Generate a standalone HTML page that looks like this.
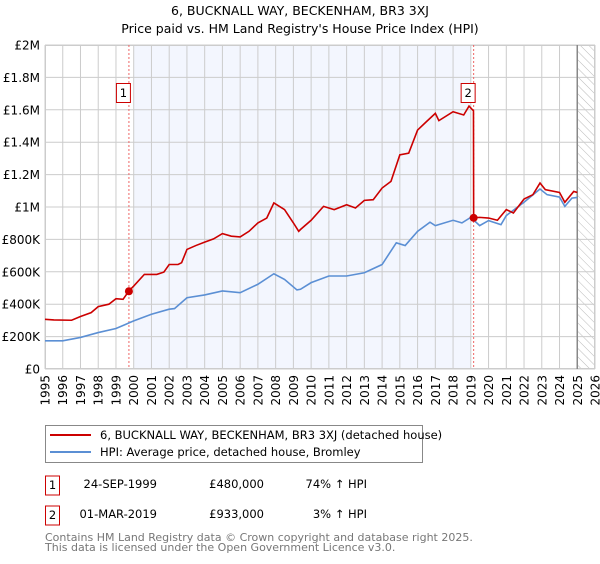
<!DOCTYPE html>
<html><head><meta charset="utf-8"><style>
body{margin:0;background:#fff;width:600px;height:560px;overflow:hidden;font-family:"DejaVu Sans","Liberation Sans",sans-serif}
svg text{font-family:"DejaVu Sans","Liberation Sans",sans-serif}
</style></head><body>
<svg id="chart" width="600" height="560" xmlns="http://www.w3.org/2000/svg">
<text x="300" y="15" text-anchor="middle" font-size="12.5">6, BUCKNALL WAY, BECKENHAM, BR3 3XJ</text>
<text x="300" y="33" text-anchor="middle" font-size="12.5">Price paid vs. HM Land Registry's House Price Index (HPI)</text>
<g id="plot"></g>
<g>
<rect x="45.5" y="425.5" width="377" height="37" fill="#fff" stroke="#888"/>
<line x1="50" y1="435" x2="91" y2="435" stroke="#cc0000" stroke-width="2"/>
<text x="100" y="439" font-size="11.5">6, BUCKNALL WAY, BECKENHAM, BR3 3XJ (detached house)</text>
<line x1="50" y1="452" x2="91" y2="452" stroke="#5b8fd4" stroke-width="2"/>
<text x="100" y="456" font-size="11.5">HPI: Average price, detached house, Bromley</text>
</g>
<g font-size="11.5">
<rect x="45.5" y="476" width="14" height="19" fill="#fff" stroke="#cc0000"/>
<text x="52.5" y="489" text-anchor="middle">1</text>
<text x="157" y="488" text-anchor="end">24-SEP-1999</text>
<text x="264" y="488" text-anchor="end">£480,000</text>
<text x="367" y="488" text-anchor="end">74% ↑ HPI</text>
<rect x="45.5" y="506" width="14" height="19" fill="#fff" stroke="#cc0000"/>
<text x="52.5" y="519" text-anchor="middle">2</text>
<text x="157" y="518" text-anchor="end">01-MAR-2019</text>
<text x="264" y="518" text-anchor="end">£933,000</text>
<text x="367" y="518" text-anchor="end">3% ↑ HPI</text>
</g>
<text x="45" y="541" font-size="11" fill="#777">Contains HM Land Registry data © Crown copyright and database right 2025.</text>
<text x="45" y="551" font-size="11" fill="#777">This data is licensed under the Open Government Licence v3.0.</text>
</svg>
<script>
const yTickValues=[0,200,400,600,800,1000,1200,1400,1600,1800,2000];
const yTickLabels=["£0","£200K","£400K","£600K","£800K","£1M","£1.2M","£1.4M","£1.6M","£1.8M","£2M"];
const xTickYears=[1995,1996,1997,1998,1999,2000,2001,2002,2003,2004,2005,2006,2007,2008,2009,2010,2011,2012,2013,2014,2015,2016,2017,2018,2019,2020,2021,2022,2023,2024,2025,2026];
const hpiYears=[1995,1996,1997,1998,1999,1999.7,2000,2001,2002,2002.3,2003,2004,2005,2006,2007,2007.9,2008.5,2009.2,2009.4,2010,2011,2012,2013,2014,2014.8,2015.3,2016,2016.7,2017,2018,2018.5,2019,2019.5,2020,2020.7,2021,2022,2022.9,2023.3,2024,2024.3,2024.7,2025];
const hpiValues=[174,174,195,225,250,283,297,338,369,373,440,457,482,471,523,588,553,488,492,533,574,574,594,645,779,762,850,906,885,918,902,936,885,916,891,947,1029,1111,1076,1061,1004,1055,1059];
const priceYears=[1995,1995.5,1996.5,1997,1997.6,1998,1998.6,1999,1999.4,1999.73,2000,2000.6,2001.3,2001.7,2002,2002.5,2002.7,2003,2003.5,2004,2004.5,2005,2005.5,2006,2006.5,2007,2007.5,2007.9,2008.5,2009,2009.3,2009.4,2010,2010.7,2011.3,2012,2012.5,2013,2013.5,2014,2014.5,2015,2015.5,2016,2016.5,2017,2017.2,2018,2018.6,2018.9,2019.15,2019.16,2019.5,2020,2020.5,2021,2021.4,2022,2022.5,2022.9,2023.2,2024,2024.3,2024.8,2025];
const priceValues=[307,303,301,324,348,385,400,434,430,482,512,584,584,598,645,645,656,738,762,783,803,836,820,815,850,902,932,1025,984,902,850,861,918,1004,984,1014,994,1041,1045,1117,1158,1322,1332,1475,1527,1578,1533,1588,1568,1623,1594,933,936,932,918,984,963,1049,1076,1148,1107,1090,1029,1096,1090];
const saleYears=[1999.73,2019.16];
const saleValues=[480,933];
const saleLabels=["1","2"];

const L=45,R=595,T=45,B=369,Y0=1995,Y1=2026,VMAX=2000;
const xs=y=>L+(y-Y0)/(Y1-Y0)*(R-L);
const ys=v=>B-v/VMAX*(B-T);
const NS="http://www.w3.org/2000/svg";
const plot=document.getElementById('plot');
function mk(tag,attrs,parent){const e=document.createElementNS(NS,tag);for(const k in attrs)e.setAttribute(k,attrs[k]);(parent||plot).appendChild(e);return e;}

const bg=mk('rect',{x:L,y:T,width:R-L,height:B-T,fill:'#fff'});


const band=mk('rect',{x:xs(2000),y:T,width:xs(2019)-xs(2000),height:B-T,fill:'#eef2fd',opacity:0.7});


const defs=mk('defs',{});
const pat=mk('pattern',{id:'hatch',width:6,height:6,patternUnits:'userSpaceOnUse',patternTransform:'rotate(-45)'},defs);
mk('line',{x1:0,y1:0,x2:0,y2:6,stroke:'#bbb','stroke-width':1},pat);
const hatch=mk('rect',{x:xs(2025),y:T,width:R-xs(2025),height:B-T,fill:'url(#hatch)'});



yTickValues.forEach((v,i)=>{
 const g=mk('line',{x1:L,x2:R,y1:ys(v),y2:ys(v),stroke:'#ccc','stroke-width':1});
 
 
 const t=mk('text',{x:L-5,y:ys(v)+4.5,'text-anchor':'end','font-size':12});
 t.textContent=yTickLabels[i];
 
 
});
xTickYears.forEach(y=>{
 const g=mk('line',{x1:xs(y),x2:xs(y),y1:T,y2:B,stroke:'#ccc','stroke-width':1});
 
 
 const t=mk('text',{x:0,y:0,'font-size':12,'text-anchor':'end',transform:`translate(${xs(y)+4.5},${B+6}) rotate(-90)`});
 t.textContent=y;
 
 
});
const border=mk('rect',{x:L+0.5,y:T+0.5,width:R-L-1,height:B-T-1,fill:'none',stroke:'#ccc'});


const nowLine=mk('line',{x1:xs(2025),x2:xs(2025),y1:T,y2:B,stroke:'#888','stroke-width':1.5});



saleYears.forEach((y,i)=>{
 const d=mk('line',{x1:xs(y),x2:xs(y),y1:T,y2:B,stroke:'#ee6666','stroke-width':1,'stroke-dasharray':'2,2'});
 
 
});

const hp=mk('polyline',{points:hpiYears.map((y,i)=>xs(y)+','+ys(hpiValues[i])).join(' '),fill:'none',stroke:'#5b8fd4','stroke-width':1.6});


const pp=mk('polyline',{points:priceYears.map((y,i)=>xs(y)+','+ys(priceValues[i])).join(' '),fill:'none',stroke:'#cc0000','stroke-width':1.6});



saleYears.forEach((y,i)=>{
 const c=mk('circle',{cx:xs(y),cy:ys(saleValues[i]),r:4,fill:'#cc0000'});
 
 
 const bx=xs(y)-12;
 const r=mk('rect',{x:bx-0.5,y:83.5,width:14,height:19,fill:'#fff',stroke:'#cc0000'});
 
 
 const t=mk('text',{x:bx+6.5,y:97,'text-anchor':'middle','font-size':11.5});
 t.textContent=saleLabels[i];
 
 
});
</script>
</body></html>
